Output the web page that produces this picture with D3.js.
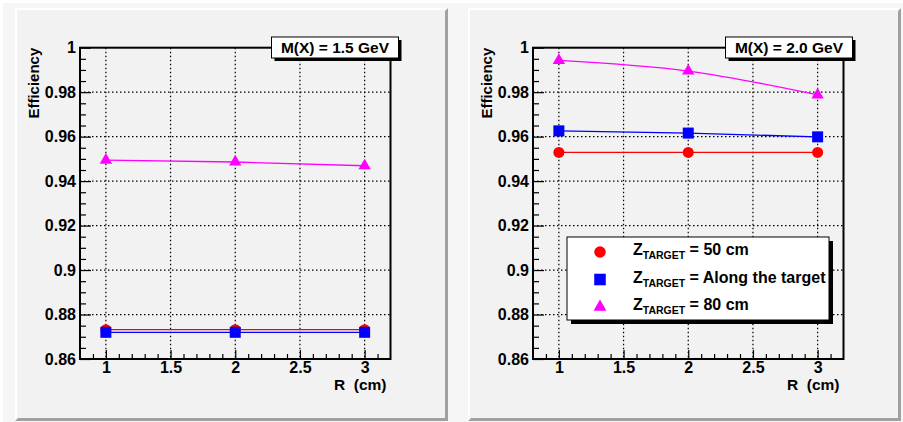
<!DOCTYPE html>
<html>
<head>
<meta charset="utf-8">
<script src="https://cdn.jsdelivr.net/npm/d3@7"></script>
<style>
  body { margin: 0; background: #f6f6f6; }
  text { font-family: "Liberation Sans", Arial, sans-serif; font-weight: bold; }
</style>
</head>
<body>
<div id="chart-container"></div>
<script>
// data
const rValues = [1, 2, 3];
const xTicks = [1, 1.5, 2, 2.5, 3];
const yTicks = [0.86, 0.88, 0.9, 0.92, 0.94, 0.96, 0.98, 1];

const eff15_z50 = [0.8732, 0.8732, 0.8732];
const eff15_along = [0.8720, 0.8720, 0.8720];
const eff15_z80 = [0.9494, 0.9486, 0.9469];

const eff20_z50 = [0.9529, 0.9529, 0.9529];
const eff20_along = [0.9626, 0.9616, 0.9599];
const eff20_z80 = [0.9943, 0.9895, 0.9788];

const legendLabels = ["= 50 cm", "= Along the target", "= 80 cm"];
const panelTitles = ["M(X) = 1.5 GeV", "M(X) = 2.0 GeV"];
const seriesColors = ["#ff0000", "#0000ff", "#ff00ff"];
const seriesShapes = [d3.symbolCircle, d3.symbolSquare, d3.symbolTriangle];
const shapeSizes = [95, 121, 66];

const width = 903, height = 422;

var svg = d3.select("#chart-container")
  .append("svg")
  .attr("width", width)
  .attr("height", height);

// canvas bevel
svg.append("rect").attr("x", 0).attr("y", 0).attr("width", width).attr("height", height).attr("fill", "#f6f6f6");
svg.append("path").attr("d", "M0,0H903V3H3V422H0Z").attr("fill", "#ffffff");

function drawPanel(px, title, series, showLegend) {
  const padW = 433, padH = 413;
  var pad = svg.append("g").attr("transform", "translate(" + px + ",8)");

  // pad with bevel
  pad.append("rect").attr("width", padW).attr("height", padH).attr("fill", "#f2f2f2");
  pad.append("path").attr("d", "M0,0H" + padW + "L" + (padW - 2) + ",2H2V" + (padH - 2) + "L0," + padH + "Z").attr("fill", "#ffffff");
  pad.append("path").attr("d", "M" + padW + ",0V" + padH + "H0L3," + (padH - 3) + "H" + (padW - 3) + "V3Z").attr("fill", "#a0a0a0");

  const marginLeft = 65, plotW = 310.5, marginTop = 39.7, plotH = 311.3;
  var g = pad.append("g").attr("transform", "translate(" + marginLeft + "," + marginTop + ")");

  var x = d3.scaleLinear().domain([0.8, 3.2]).range([0, plotW]);
  var y = d3.scaleLinear().domain([0.86, 1.0]).range([plotH, 0]);

  // grid
  g.selectAll(".gx").data(xTicks).enter().append("line")
    .attr("x1", (d) => x(d)).attr("x2", (d) => x(d))
    .attr("y1", 0).attr("y2", plotH)
    .attr("stroke", "#000").attr("stroke-width", 1.2).attr("stroke-dasharray", "1.5,2.5");
  g.selectAll(".gy").data(yTicks.slice(1, -1)).enter().append("line")
    .attr("x1", 0).attr("x2", plotW)
    .attr("y1", (d) => y(d)).attr("y2", (d) => y(d))
    .attr("stroke", "#000").attr("stroke-width", 1.2).attr("stroke-dasharray", "1.5,2.5");

  // minor ticks
  const xMinor = d3.range(0.9, 3.2, 0.1).filter((v) => Math.abs(v * 2 - Math.round(v * 2)) > 0.01);
  const yMinor = d3.range(0.865, 1.0, 0.005).filter((v) => Math.abs(v * 50 - Math.round(v * 50)) > 0.01);
  g.append("g").attr("transform", "translate(0," + plotH + ")")
    .call(d3.axisBottom(x).tickValues(xMinor).tickSize(-5).tickFormat(""))
    .call((a) => a.select(".domain").remove());
  g.append("g")
    .call(d3.axisLeft(y).tickValues(yMinor).tickSize(-6).tickFormat(""))
    .call((a) => a.select(".domain").remove());

  // major ticks + labels
  var xa = g.append("g").attr("transform", "translate(0," + plotH + ")")
    .call(d3.axisBottom(x).tickValues(xTicks).tickSize(-9).tickPadding(3).tickFormat(d3.format("~g")));
  xa.select(".domain").remove();
  xa.selectAll("text").style("font-size", "16px").attr("fill", "#000");

  var ya = g.append("g")
    .call(d3.axisLeft(y).tickValues(yTicks).tickSize(-11).tickPadding(4).tickFormat(d3.format("~g")));
  ya.select(".domain").remove();
  ya.selectAll("text").style("font-size", "16px").attr("fill", "#000");
  g.selectAll(".tick line").attr("stroke", "#000").attr("stroke-width", 1.2);

  // frame
  g.append("rect").attr("width", plotW).attr("height", plotH)
    .attr("fill", "none").attr("stroke", "#000").attr("stroke-width", 2);

  // series
  series.forEach((vals, i) => {
    var pts = rValues.map((r, k) => [r, vals[k]]);
    g.append("path").datum(pts)
      .attr("d", d3.line().x((d) => x(d[0])).y((d) => y(d[1])).curve(d3.curveNatural))
      .attr("fill", "none").attr("stroke", seriesColors[i]).attr("stroke-width", 1.3);
  });
  series.forEach((vals, i) => {
    var pts = rValues.map((r, k) => [r, vals[k]]);
    g.selectAll(".m" + i).data(pts).enter().append("path")
      .attr("transform", (d) => "translate(" + x(d[0]) + "," + y(d[1]) + ")")
      .attr("d", d3.symbol().type(seriesShapes[i]).size(shapeSizes[i]))
      .attr("fill", seriesColors[i]);
  });

  // axis labels
  pad.append("text")
    .attr("transform", "translate(" + 24 + "," + marginTop + ")rotate(-90)")
    .style("text-anchor", "end").style("font-size", "15px")
    .text("Efficiency");
  pad.append("text")
    .attr("x", marginLeft + plotW - 4).attr("y", 381.5)
    .style("text-anchor", "end").style("font-size", "15.5px")
    .style("white-space", "pre")
    .text("R  (cm)");

  // title box
  const tbX = marginLeft + plotW - 119 + (showLegend ? 1 : 0), tbY = 29, tbW = 127, tbH = 21;
  pad.append("rect").attr("x", tbX + 3).attr("y", tbY + 3).attr("width", tbW).attr("height", tbH).attr("fill", "#000");
  pad.append("rect").attr("x", tbX).attr("y", tbY).attr("width", tbW).attr("height", tbH)
    .attr("fill", "#fff").attr("stroke", "#000").attr("stroke-width", 1);
  pad.append("text").attr("x", tbX + tbW / 2).attr("y", tbY + tbH / 2).attr("dy", "0.36em")
    .style("text-anchor", "middle").style("font-size", "15.5px").text(title);

  if (showLegend) {
    const lx = 567 - px, ly = 237 - 8, lw = 262, lh = 83;
    pad.append("rect").attr("x", lx + 4).attr("y", ly + 4).attr("width", lw).attr("height", lh).attr("fill", "#000");
    pad.append("rect").attr("x", lx).attr("y", ly).attr("width", lw).attr("height", lh)
      .attr("fill", "#fff").attr("stroke", "#000").attr("stroke-width", 1);
    var rows = pad.selectAll(".leg").data(legendLabels).enter().append("g")
      .attr("transform", (d, i) => "translate(" + lx + "," + (ly + 15 + i * 27.5) + ")");
    rows.append("path")
      .attr("transform", "translate(33,0)")
      .attr("d", (d, i) => d3.symbol().type(seriesShapes[i]).size(shapeSizes[i] * 1.1)())
      .attr("fill", (d, i) => seriesColors[i]);
    var t = rows.append("text").attr("x", 66).attr("y", 3).style("font-size", "16px");
    t.append("tspan").text("Z");
    t.append("tspan").attr("dy", 4).style("font-size", "10.5px").text("TARGET");
    t.append("tspan").attr("dy", -4).style("white-space", "pre").text((d) => " " + d);
  }
}

drawPanel(15, panelTitles[0], [eff15_z50, eff15_along, eff15_z80], false);
drawPanel(468, panelTitles[1], [eff20_z50, eff20_along, eff20_z80], true);
</script>
</body>
</html>
